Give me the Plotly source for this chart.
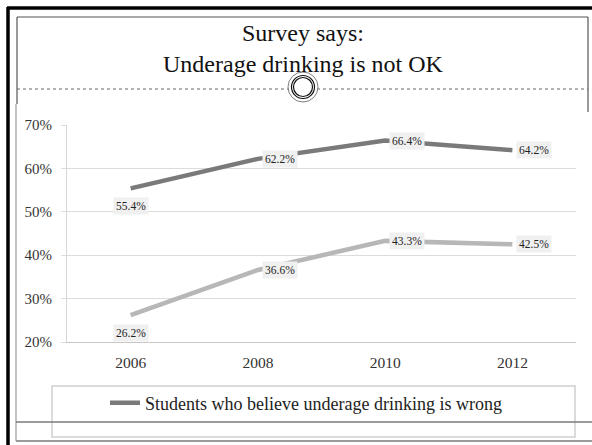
import plotly.graph_objects as go

# Survey results: share of students who believe underage drinking is wrong
years = ["2006", "2008", "2010", "2012"]
series_main = [0.554, 0.622, 0.664, 0.642]
series_second = [0.262, 0.366, 0.433, 0.425]
series_main_name = "Students who believe underage drinking is wrong"
series_second_name = "Second group"
y_ticks = [0.2, 0.3, 0.4, 0.5, 0.6, 0.7]

# label placement per point (first year below, rest to the right)
label_side = ["below", "right", "right", "right"]

W, H = 592, 445
L, R, T, B = 67, 576, 125, 342   # plot area in pixels


def px(x):
    return (x - L) / (R - L)


def py(y):
    return (B - y) / (B - T)


SERIF = "Liberation Serif, Times New Roman, serif"

fig = go.Figure()
fig.add_trace(go.Scatter(
    x=years, y=series_main, mode="lines", name=series_main_name,
    line=dict(color="#7a7a7a", width=4.5), showlegend=True,
    hoverinfo="x+y"))
fig.add_trace(go.Scatter(
    x=years, y=series_second, mode="lines", name=series_second_name,
    line=dict(color="#b7b7b7", width=4.5), showlegend=False,
    hoverinfo="x+y"))

annotations = []
for vals in (series_main, series_second):
    for i, (v, side) in enumerate(zip(vals, label_side)):
        a = dict(x=i, y=v, xref="x", yref="y", text=f"{v * 100:.1f}%",
                 showarrow=False, bgcolor="#f0f0f0", borderpad=2,
                 font=dict(family=SERIF, size=11.5, color="#222222"))
        if side == "below":
            a.update(xanchor="center", yanchor="top", yshift=-9)
        else:
            a.update(xanchor="left", yanchor="middle", xshift=4)
        annotations.append(a)

# slide title
annotations.append(dict(
    x=px(303), y=py(48), xref="paper", yref="paper",
    text="Survey says:<br>Underage drinking is not OK", showarrow=False,
    xanchor="center", yanchor="middle",
    font=dict(family=SERIF, size=24, color="#111111")))


def line(x0, y0, x1, y1, color, width, dash="solid", layer="above"):
    return dict(type="line", xref="paper", yref="paper",
                x0=px(x0), y0=py(y0), x1=px(x1), y1=py(y1),
                line=dict(color=color, width=width, dash=dash), layer=layer)


def circle(cx, cy, r, color, width, fill="rgba(0,0,0,0)"):
    return dict(type="circle", xref="paper", yref="paper",
                x0=px(cx - r), x1=px(cx + r), y0=py(cy + r), y1=py(cy - r),
                line=dict(color=color, width=width), fillcolor=fill,
                layer="above")


shapes = [
    # outer slide frame
    line(7, 8, 592, 8, "#000000", 3.5),
    line(8, 7, 8, 445, "#000000", 3.5),
    # title placeholder box
    line(17, 17, 588, 17, "#555555", 1.2),
    line(17, 17, 17, 104, "#555555", 1.2),
    line(588, 17, 588, 112, "#555555", 1.2),
    line(17, 89, 588, 89, "#666666", 1, dash="dot"),
    # content area edges
    line(16, 104, 16, 441, "#9a9a9a", 1.2),
    # legend frame
    dict(type="rect", xref="paper", yref="paper",
         x0=px(52), x1=px(575), y0=py(437), y1=py(386),
         line=dict(color="#d0d0d0", width=1.5), layer="below"),
    line(16, 422, 592, 422, "#7a7a7a", 1.3),
    line(16, 441, 592, 441, "#7a7a7a", 1.5),
    # rotation handle
    circle(303, 87, 15, "#444444", 0.7, fill="#ffffff"),
    circle(303, 87, 11.5, "#111111", 1.2),
    circle(303, 87, 9.5, "#111111", 1.2),
]

fig.update_layout(
    width=W, height=H, autosize=False,
    margin=dict(l=L, r=W - R, t=T, b=H - B, pad=0),
    paper_bgcolor="#ffffff", plot_bgcolor="#ffffff",
    showlegend=True,
    legend=dict(orientation="h", x=px(306), y=py(403), xanchor="center",
                yanchor="middle", bgcolor="rgba(0,0,0,0)",
                font=dict(family=SERIF, size=18, color="#222222"),
                itemwidth=30),
    annotations=annotations,
    shapes=shapes,
    font=dict(family=SERIF),
)

fig.update_xaxes(
    type="category", range=[-0.5, 3.5], showgrid=False,
    showline=True, linecolor="#c8c8c8", linewidth=1,
    ticks="", tickfont=dict(family=SERIF, size=15.5, color="#333333"),
    ticklabelstandoff=6, zeroline=False, fixedrange=True)
fig.update_yaxes(
    range=[0.2, 0.7], tickvals=y_ticks, tickformat=".0%",
    showgrid=True, gridcolor="#dcdcdc", gridwidth=1,
    showline=True, linecolor="#d6d6d6", linewidth=1,
    ticks="outside", ticklen=5, tickcolor="#dcdcdc",
    tickfont=dict(family=SERIF, size=15, color="#333333"),
    ticklabelstandoff=6, zeroline=False, fixedrange=True)

fig.write_html("out.html")
